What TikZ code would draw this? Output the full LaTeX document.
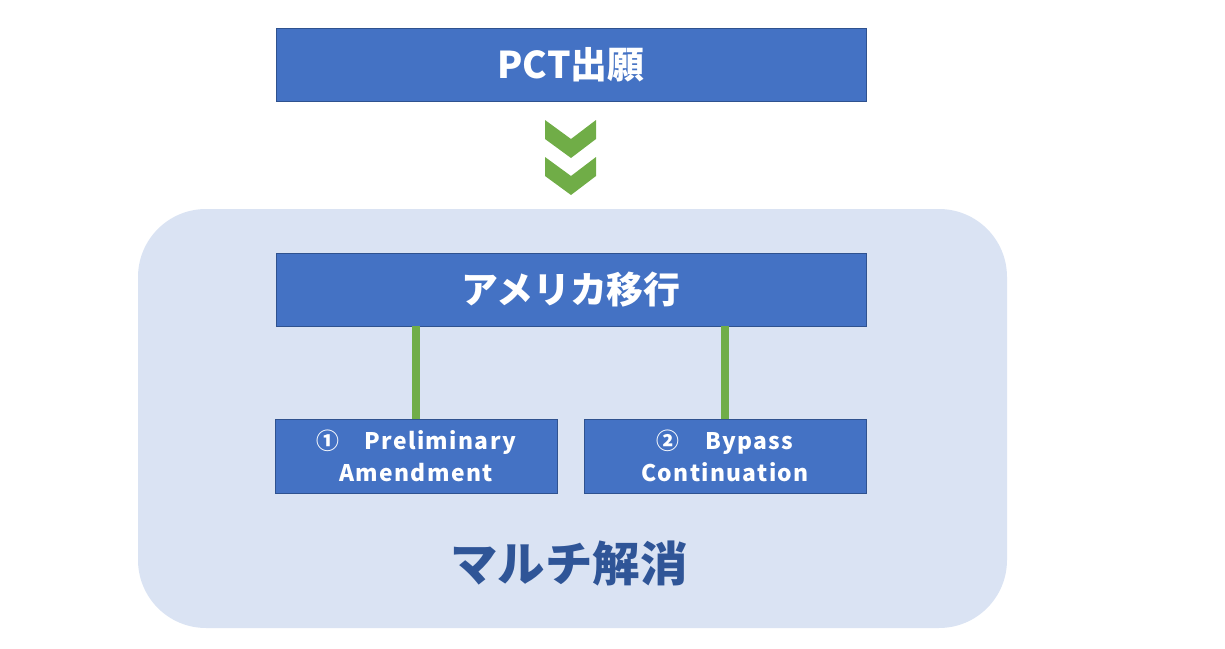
\documentclass[tikz,border=0pt]{standalone}
\usepackage{fontspec}
\setmainfont{Noto Sans CJK JP}
\usepackage{tikz}
\usepackage{xcolor}

\definecolor{boxblue}{HTML}{4472C4}
\definecolor{boxedge}{HTML}{2F528F}
\definecolor{panel}{HTML}{DAE3F3}
\definecolor{linkgreen}{HTML}{70AD47}
\definecolor{titleblue}{HTML}{2F5597}

\tikzset{
  bluebox/.style={draw=boxedge,fill=boxblue,text=white,font=\bfseries,
    inner sep=0pt,align=center},
  widebox/.style={bluebox,minimum width=11.8cm,minimum height=1.46cm,
    font=\fontsize{21}{24}\selectfont\bfseries},
  smallbox/.style={bluebox,minimum width=5.64cm,minimum height=1.48cm,
    font=\fontsize{13}{18}\selectfont\bfseries\addfontfeatures{LetterSpace=6}},
  link/.style={linkgreen,line width=0.16cm}
}

\begin{document}
\begin{tikzpicture}[x=0.02cm,y=-0.02cm]

\useasboundingbox (0,0) rectangle (1225,649);

\fill[panel,rounded corners=1.36cm] (138,209) rectangle (1007,628);

\node[widebox] (pct) at (571,64.5) {PCT出願};
\node[widebox] (usa) at (571,289.5) {アメリカ移行};

\node[smallbox] (pre) at (416,456) {①　Preliminary\\Amendment};
\node[smallbox] (bypass) at (725,456) {②　Bypass\\Continuation};

\draw[link] (usa.south -| pre.north) -- (pre.north);
\draw[link] (usa.south -| bypass.north) -- (bypass.north);

\foreach \dy in {0,37}
  \fill[linkgreen] (545,120+\dy) -- (571,139+\dy) -- (596,120+\dy)
    -- (596,139+\dy) -- (571,158+\dy) -- (545,139+\dy) -- cycle;

\node[text=titleblue,font=\fontsize{27}{30}\selectfont\bfseries] (multi) at (569,563) {マルチ解消};

\end{tikzpicture}
\end{document}
